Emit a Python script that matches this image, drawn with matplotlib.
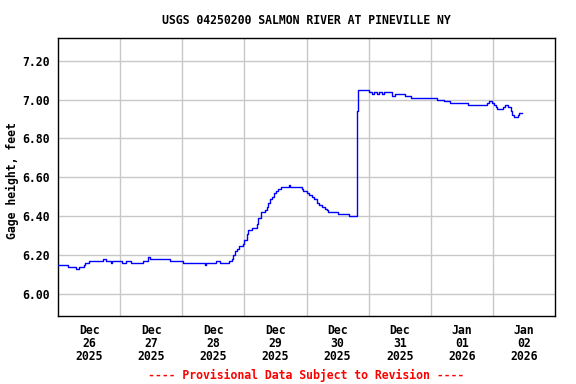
import matplotlib
matplotlib.use("Agg")
import matplotlib.pyplot as plt
import matplotlib.dates as mdates
from matplotlib.ticker import FixedLocator, FormatStrFormatter
import pandas as pd

title = "USGS 04250200 SALMON RIVER AT PINEVILLE NY"
ylabel = "Gage height, feet"
footer = "---- Provisional Data Subject to Revision ----"

start = "2025-12-26 00:00"
# hours since Dec 26 00:00 (step changes)
hours = [0.0, 3.8, 6.8, 8.0, 10.0, 10.5, 11.9, 17.3, 18.7, 20.3, 20.7, 24.9, 26.1, 28.1,
         32.8, 34.8, 35.4, 43.2, 48.1, 56.7, 57.0, 60.9, 62.5, 66.0, 67.3, 67.7, 68.3,
         69.0, 69.9, 71.3, 71.9, 72.9, 73.5, 74.8, 76.7, 77.3, 78.3, 79.9, 80.6, 81.3,
         81.9, 82.6, 83.5, 84.4, 85.1, 86.1, 89.2, 89.6, 94.1, 94.8, 96.1, 97.0, 98.0,
         98.9, 99.9, 100.8, 101.9, 103.0, 104.1, 104.4, 108.3, 112.6, 115.4, 115.8,
         120.3, 121.4, 122.1, 123.3, 124.1, 125.2, 126.0, 127.2, 129.0, 130.3, 134.1,
         136.5, 146.4, 149.0, 151.3, 158.4, 165.8, 166.6, 167.7, 168.6, 169.2, 169.6,
         171.9, 172.6, 173.9, 175.0, 175.4, 176.0, 177.7, 178.2, 179.4]
gage = [6.15, 6.14, 6.13, 6.14, 6.15, 6.16, 6.17, 6.18, 6.17, 6.16, 6.17, 6.16, 6.17, 6.16,
        6.17, 6.19, 6.18, 6.17, 6.16, 6.15, 6.16, 6.17, 6.16, 6.17, 6.18, 6.20, 6.22,
        6.23, 6.25, 6.26, 6.28, 6.31, 6.33, 6.34, 6.36, 6.39, 6.42, 6.43, 6.45, 6.47,
        6.49, 6.50, 6.52, 6.53, 6.54, 6.55, 6.56, 6.55, 6.54, 6.53, 6.52, 6.51, 6.50,
        6.49, 6.47, 6.46, 6.45, 6.44, 6.43, 6.42, 6.41, 6.40, 6.94, 7.05,
        7.04, 7.03, 7.04, 7.03, 7.04, 7.03, 7.04, 7.04, 7.02, 7.03, 7.02,
        7.01, 7.00, 6.99, 6.98, 6.97, 6.98, 6.99, 6.98, 6.97, 6.96, 6.95,
        6.96, 6.97, 6.96, 6.94, 6.92, 6.91, 6.92, 6.93, 6.93]

day_labels = ["Dec\n26\n2025", "Dec\n27\n2025", "Dec\n28\n2025", "Dec\n29\n2025",
              "Dec\n30\n2025", "Dec\n31\n2025", "Jan\n01\n2026", "Jan\n02\n2026"]
yticks = [6.00, 6.20, 6.40, 6.60, 6.80, 7.00, 7.20]

t0 = pd.Timestamp(start)
times = t0 + pd.to_timedelta(hours, unit="h")

FS = 8.3
plt.rcParams['font.family'] = ['DejaVu Sans Mono']
plt.rcParams['font.weight'] = 'bold'
plt.rcParams['font.size'] = FS

fig = plt.figure(figsize=(5.76, 3.84), dpi=100)
ax = fig.add_axes([58/576, 1-316/384, 497/576, 278/384])

ax.plot(times, gage, color="#0000ff", lw=1.0, drawstyle="steps-post", zorder=3)

xmin = mdates.date2num(t0)
ax.set_xlim(xmin, xmin + 8)
ax.set_ylim(5.888, 7.316)

noons = [xmin + i + 0.5 for i in range(8)]
mids = [xmin + i for i in range(1, 8)]
ax.xaxis.set_major_locator(FixedLocator(noons))
ax.xaxis.set_minor_locator(FixedLocator(mids))
ax.set_xticklabels(day_labels, fontweight='bold', linespacing=1.0)
ax.set_yticks(yticks)
ax.yaxis.set_major_formatter(FormatStrFormatter('%.2f'))

ax.grid(False)
ax.xaxis.grid(True, which='minor', color='#c8c8c8', lw=1.0)
ax.yaxis.grid(True, which='major', color='#c8c8c8', lw=1.0)
ax.set_axisbelow(True)
ax.tick_params(axis='x', which='both', length=0, pad=6)
ax.tick_params(axis='y', which='both', length=0, pad=6)
for s in ax.spines.values():
    s.set_linewidth(1.0)
    s.set_color('black')

fig.text(306/576, 1-20/384, title, ha='center', va='center', fontsize=FS, fontweight='bold')
fig.text(12/576, 1-181/384, ylabel, ha='center', va='center', rotation=90,
         fontsize=FS, fontweight='bold')
fig.text(306/576, 1-375/384, footer, ha='center', va='center', fontsize=FS,
         fontweight='bold', color='#ff0000')

fig.savefig("out.png", dpi=100)
